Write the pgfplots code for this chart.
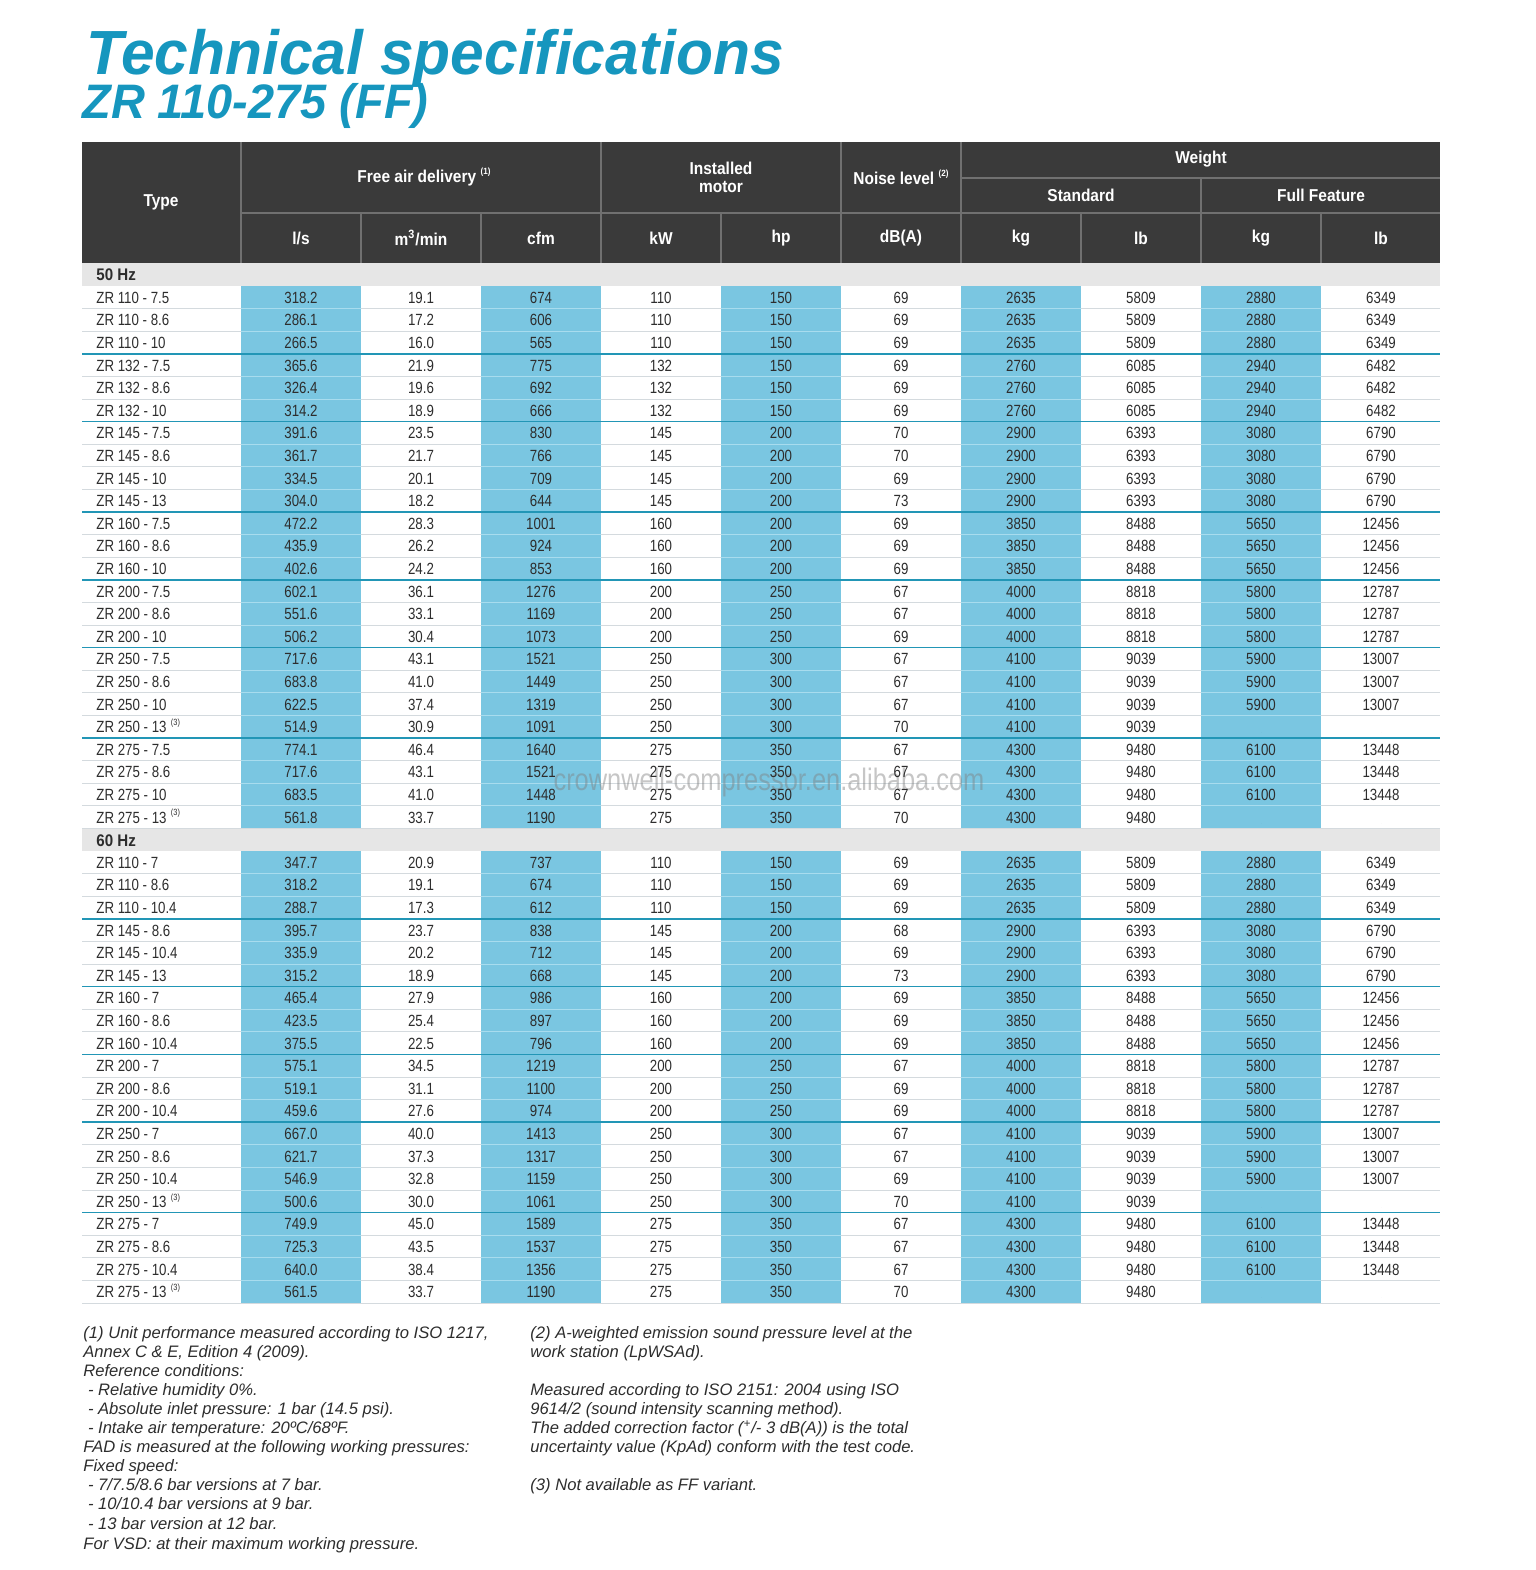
\documentclass[border=0pt]{standalone}
\usepackage{pgfplots}
\pgfplotsset{compat=1.18}
\usepackage{pgfplotstable}
\usepackage{fontspec}
\setmainfont{Liberation Sans}
\newfontfamily\cellfont{Liberation Sans}[FakeStretch=0.82]
\newfontfamily\headfont{Liberation Sans}[FakeStretch=0.9]
\newfontfamily\titlefont{Liberation Sans}[FakeStretch=0.97]

\definecolor{teal}{RGB}{22,150,190}
\definecolor{headbg}{RGB}{58,58,58}
\definecolor{headline}{RGB}{112,112,112}
\definecolor{band}{RGB}{230,230,230}
\definecolor{cellblue}{RGB}{122,198,225}
\definecolor{sepgray}{RGB}{212,218,222}
\definecolor{sepblue}{RGB}{168,220,238}
\definecolor{grpline}{RGB}{34,150,182}
\definecolor{txt}{RGB}{45,45,45}

\protected\def\tn#1{\kern2.2pt\raisebox{0.45em}{\fontsize{4.5}{4.5}\selectfont(#1)}}

% 50 Hz block
\pgfplotstableread[col sep=comma]{
type,ls,m3,cfm,kw,hp,db,kgs,lbs,kgf,lbf
ZR 110 - 7.5,318.2,19.1,674,110,150,69,2635,5809,2880,6349
ZR 110 - 8.6,286.1,17.2,606,110,150,69,2635,5809,2880,6349
ZR 110 - 10,266.5,16.0,565,110,150,69,2635,5809,2880,6349
ZR 132 - 7.5,365.6,21.9,775,132,150,69,2760,6085,2940,6482
ZR 132 - 8.6,326.4,19.6,692,132,150,69,2760,6085,2940,6482
ZR 132 - 10,314.2,18.9,666,132,150,69,2760,6085,2940,6482
ZR 145 - 7.5,391.6,23.5,830,145,200,70,2900,6393,3080,6790
ZR 145 - 8.6,361.7,21.7,766,145,200,70,2900,6393,3080,6790
ZR 145 - 10,334.5,20.1,709,145,200,69,2900,6393,3080,6790
ZR 145 - 13,304.0,18.2,644,145,200,73,2900,6393,3080,6790
ZR 160 - 7.5,472.2,28.3,1001,160,200,69,3850,8488,5650,12456
ZR 160 - 8.6,435.9,26.2,924,160,200,69,3850,8488,5650,12456
ZR 160 - 10,402.6,24.2,853,160,200,69,3850,8488,5650,12456
ZR 200 - 7.5,602.1,36.1,1276,200,250,67,4000,8818,5800,12787
ZR 200 - 8.6,551.6,33.1,1169,200,250,67,4000,8818,5800,12787
ZR 200 - 10,506.2,30.4,1073,200,250,69,4000,8818,5800,12787
ZR 250 - 7.5,717.6,43.1,1521,250,300,67,4100,9039,5900,13007
ZR 250 - 8.6,683.8,41.0,1449,250,300,67,4100,9039,5900,13007
ZR 250 - 10,622.5,37.4,1319,250,300,67,4100,9039,5900,13007
ZR 250 - 13\tn{3},514.9,30.9,1091,250,300,70,4100,9039,{},{}
ZR 275 - 7.5,774.1,46.4,1640,275,350,67,4300,9480,6100,13448
ZR 275 - 8.6,717.6,43.1,1521,275,350,67,4300,9480,6100,13448
ZR 275 - 10,683.5,41.0,1448,275,350,67,4300,9480,6100,13448
ZR 275 - 13\tn{3},561.8,33.7,1190,275,350,70,4300,9480,{},{}
}\fiftyhz

% 60 Hz block
\pgfplotstableread[col sep=comma]{
type,ls,m3,cfm,kw,hp,db,kgs,lbs,kgf,lbf
ZR 110 - 7,347.7,20.9,737,110,150,69,2635,5809,2880,6349
ZR 110 - 8.6,318.2,19.1,674,110,150,69,2635,5809,2880,6349
ZR 110 - 10.4,288.7,17.3,612,110,150,69,2635,5809,2880,6349
ZR 145 - 8.6,395.7,23.7,838,145,200,68,2900,6393,3080,6790
ZR 145 - 10.4,335.9,20.2,712,145,200,69,2900,6393,3080,6790
ZR 145 - 13,315.2,18.9,668,145,200,73,2900,6393,3080,6790
ZR 160 - 7,465.4,27.9,986,160,200,69,3850,8488,5650,12456
ZR 160 - 8.6,423.5,25.4,897,160,200,69,3850,8488,5650,12456
ZR 160 - 10.4,375.5,22.5,796,160,200,69,3850,8488,5650,12456
ZR 200 - 7,575.1,34.5,1219,200,250,67,4000,8818,5800,12787
ZR 200 - 8.6,519.1,31.1,1100,200,250,69,4000,8818,5800,12787
ZR 200 - 10.4,459.6,27.6,974,200,250,69,4000,8818,5800,12787
ZR 250 - 7,667.0,40.0,1413,250,300,67,4100,9039,5900,13007
ZR 250 - 8.6,621.7,37.3,1317,250,300,67,4100,9039,5900,13007
ZR 250 - 10.4,546.9,32.8,1159,250,300,69,4100,9039,5900,13007
ZR 250 - 13\tn{3},500.6,30.0,1061,250,300,70,4100,9039,{},{}
ZR 275 - 7,749.9,45.0,1589,275,350,67,4300,9480,6100,13448
ZR 275 - 8.6,725.3,43.5,1537,275,350,67,4300,9480,6100,13448
ZR 275 - 10.4,640.0,38.4,1356,275,350,67,4300,9480,6100,13448
ZR 275 - 13\tn{3},561.5,33.7,1190,275,350,70,4300,9480,{},{}
}\sixtyhz

\pgfplotsset{
  cell/.style={only marks, mark=*, mark size=0pt, mark options={draw=none, fill=none},
    point meta=explicit symbolic, nodes near coords,
    every node near coord/.append style={anchor=base, inner sep=0pt,
      font=\cellfont\fontsize{8.1}{9.5}\selectfont, text=txt}},
}
% #1 table, #2 column centre x, #3 top of block, #4 column
\newcommand\cellcol[4]{%
  \addplot[cell] table[x expr=#2, y expr={#3+22.6*(\coordindex+0.5)+6}, meta=#4] {#1};
}

\begin{document}
\begin{tikzpicture}
\begin{axis}[
  scale only axis, width=768pt, height=785pt,
  xmin=0, xmax=1536, ymin=0, ymax=1570, y dir=reverse,
  hide axis, clip=false,
]
\path (axis cs:0,0) rectangle (axis cs:1536,1570);

% title
\node[anchor=base west, text=teal, inner sep=0pt] at (axis cs:86,74)
  {\titlefont\bfseries\itshape\fontsize{31.2}{31}\selectfont Technical specifications};
\node[anchor=base west, text=teal, inner sep=0pt] at (axis cs:82,118)
  {\titlefont\bfseries\itshape\fontsize{24.2}{24}\selectfont ZR 110-275 (FF)};

% header block
\fill[headbg] (axis cs:82,142) rectangle (axis cs:1440,263);
\draw[headline, line width=0.65pt] (axis cs:241,213) -- (axis cs:1440,213);
\draw[headline, line width=0.65pt] (axis cs:961,178) -- (axis cs:1440,178);
\pgfplotsinvokeforeach{241,601,841,961}{\draw[headline, line width=0.65pt] (axis cs:#1,142) -- (axis cs:#1,263);}
\pgfplotsinvokeforeach{361,481,721,1081,1321}{\draw[headline, line width=0.65pt] (axis cs:#1,213) -- (axis cs:#1,263);}
\draw[headline, line width=0.65pt] (axis cs:1201,178) -- (axis cs:1201,263);
\begin{scope}[every node/.style={text=white, inner sep=0pt,
    font=\headfont\bfseries\fontsize{8.6}{9.5}\selectfont}]
  \node at (axis cs:161,202) {Type};
  \node at (axis cs:424,177) {Free air delivery\tn{1}};
  \node at (axis cs:721,168) {Installed};
  \node at (axis cs:721,187) {motor};
  \node at (axis cs:901,177) {Noise level\tn{2}};
  \node at (axis cs:1201,159) {Weight};
  \node at (axis cs:1081,195) {Standard};
  \node at (axis cs:1321,195) {Full Feature};
  \node at (axis cs:301,238) {l/s};
  \node at (axis cs:421,238) {m\textsuperscript{3}/min};
  \node at (axis cs:541,238) {cfm};
  \node at (axis cs:661,238) {kW};
  \node at (axis cs:781,238) {hp};
  \node at (axis cs:901,238) {dB(A)};
  \node at (axis cs:1021,238) {kg};
  \node at (axis cs:1141,238) {lb};
  \node at (axis cs:1261,238) {kg};
  \node at (axis cs:1381,238) {lb};
\end{scope}

% section bands
\fill[band] (axis cs:82,263) rectangle (axis cs:1440,286);
\fill[band] (axis cs:82,828.4) rectangle (axis cs:1440,851);
\node[anchor=base west, inner sep=0pt, text=txt,
  font=\headfont\bfseries\fontsize{8.4}{9.5}\selectfont] at (axis cs:96,280) {50 Hz};
\node[anchor=base west, inner sep=0pt, text=txt,
  font=\headfont\bfseries\fontsize{8.4}{9.5}\selectfont] at (axis cs:96,846) {60 Hz};

% row separators
\pgfplotsinvokeforeach{1,...,24}{\draw[sepgray, line width=0.5pt] (axis cs:82,{286+22.6*#1}) -- (axis cs:1440,{286+22.6*#1});}
\pgfplotsinvokeforeach{1,...,20}{\draw[sepgray, line width=0.5pt] (axis cs:82,{851+22.6*#1}) -- (axis cs:1440,{851+22.6*#1});}
% blue columns
\pgfplotsinvokeforeach{241,481,721,961,1201}{
  \fill[cellblue] (axis cs:#1,286) rectangle (axis cs:{#1+120},828.4);
  \fill[cellblue] (axis cs:#1,851) rectangle (axis cs:{#1+120},1303);
}
\pgfplotsinvokeforeach{1,...,23}{
  \draw[sepblue, line width=0.5pt] (axis cs:241,{286+22.6*#1}) -- (axis cs:361,{286+22.6*#1})
     (axis cs:481,{286+22.6*#1}) -- (axis cs:601,{286+22.6*#1})
     (axis cs:721,{286+22.6*#1}) -- (axis cs:841,{286+22.6*#1})
     (axis cs:961,{286+22.6*#1}) -- (axis cs:1081,{286+22.6*#1})
     (axis cs:1201,{286+22.6*#1}) -- (axis cs:1321,{286+22.6*#1});
}
\pgfplotsinvokeforeach{1,...,19}{
  \draw[sepblue, line width=0.5pt] (axis cs:241,{851+22.6*#1}) -- (axis cs:361,{851+22.6*#1})
     (axis cs:481,{851+22.6*#1}) -- (axis cs:601,{851+22.6*#1})
     (axis cs:721,{851+22.6*#1}) -- (axis cs:841,{851+22.6*#1})
     (axis cs:961,{851+22.6*#1}) -- (axis cs:1081,{851+22.6*#1})
     (axis cs:1201,{851+22.6*#1}) -- (axis cs:1321,{851+22.6*#1});
}
% model group lines
\pgfplotsinvokeforeach{3,6,10,13,16,20}{\draw[grpline, line width=0.75pt] (axis cs:82,{286+22.6*#1}) -- (axis cs:1440,{286+22.6*#1});}
\pgfplotsinvokeforeach{3,6,9,12,16}{\draw[grpline, line width=0.75pt] (axis cs:82,{851+22.6*#1}) -- (axis cs:1440,{851+22.6*#1});}

% cell values
\addplot[cell, every node near coord/.append style={anchor=base west}]
  table[x expr=96, y expr={286+22.6*(\coordindex+0.5)+6}, meta=type] {\fiftyhz};
\cellcol{\fiftyhz}{301}{286}{ls}
\cellcol{\fiftyhz}{421}{286}{m3}
\cellcol{\fiftyhz}{541}{286}{cfm}
\cellcol{\fiftyhz}{661}{286}{kw}
\cellcol{\fiftyhz}{781}{286}{hp}
\cellcol{\fiftyhz}{901}{286}{db}
\cellcol{\fiftyhz}{1021}{286}{kgs}
\cellcol{\fiftyhz}{1141}{286}{lbs}
\cellcol{\fiftyhz}{1261}{286}{kgf}
\cellcol{\fiftyhz}{1381}{286}{lbf}

\addplot[cell, every node near coord/.append style={anchor=base west}]
  table[x expr=96, y expr={851+22.6*(\coordindex+0.5)+6}, meta=type] {\sixtyhz};
\cellcol{\sixtyhz}{301}{851}{ls}
\cellcol{\sixtyhz}{421}{851}{m3}
\cellcol{\sixtyhz}{541}{851}{cfm}
\cellcol{\sixtyhz}{661}{851}{kw}
\cellcol{\sixtyhz}{781}{851}{hp}
\cellcol{\sixtyhz}{901}{851}{db}
\cellcol{\sixtyhz}{1021}{851}{kgs}
\cellcol{\sixtyhz}{1141}{851}{lbs}
\cellcol{\sixtyhz}{1261}{851}{kgf}
\cellcol{\sixtyhz}{1381}{851}{lbf}

% watermark
\node[text=gray, opacity=0.45, inner sep=0pt,
  font=\cellfont\fontsize{15.5}{15.5}\selectfont] at (axis cs:769,782) {crownwell-compressor.en.alibaba.com};

% footnotes
\begin{scope}[every node/.style={anchor=base west, inner sep=0pt, text=txt,
    font=\itshape\fontsize{8.3}{9}\selectfont}]
  \node at (axis cs:83,1338) {(1) Unit performance measured according to ISO 1217,};
  \node at (axis cs:83,1357) {Annex C \& E, Edition 4 (2009).};
  \node at (axis cs:83,1376) {Reference conditions:};
  \node at (axis cs:83,1395) {\ - Relative humidity 0\%.};
  \node at (axis cs:83,1414) {\ - Absolute inlet pressure: 1 bar (14.5 psi).};
  \node at (axis cs:83,1433) {\ - Intake air temperature: 20ºC/68ºF.};
  \node at (axis cs:83,1452) {FAD is measured at the following working pressures:};
  \node at (axis cs:83,1471) {Fixed speed:};
  \node at (axis cs:83,1490) {\ - 7/7.5/8.6 bar versions at 7 bar.};
  \node at (axis cs:83,1509) {\ - 10/10.4 bar versions at 9 bar.};
  \node at (axis cs:83,1529) {\ - 13 bar version at 12 bar.};
  \node at (axis cs:83,1549) {For VSD: at their maximum working pressure.};
  \node at (axis cs:530,1338) {(2) A-weighted emission sound pressure level at the};
  \node at (axis cs:530,1357) {work station (LpWSAd).};
  \node at (axis cs:530,1395) {Measured according to ISO 2151: 2004 using ISO};
  \node at (axis cs:530,1414) {9614/2 (sound intensity scanning method).};
  \node at (axis cs:530,1433) {The added correction factor (\textsuperscript{+}/- 3 dB(A)) is the total};
  \node at (axis cs:530,1452) {uncertainty value (KpAd) conform with the test code.};
  \node at (axis cs:530,1490) {(3) Not available as FF variant.};
\end{scope}
\end{axis}
\end{tikzpicture}
\end{document}
